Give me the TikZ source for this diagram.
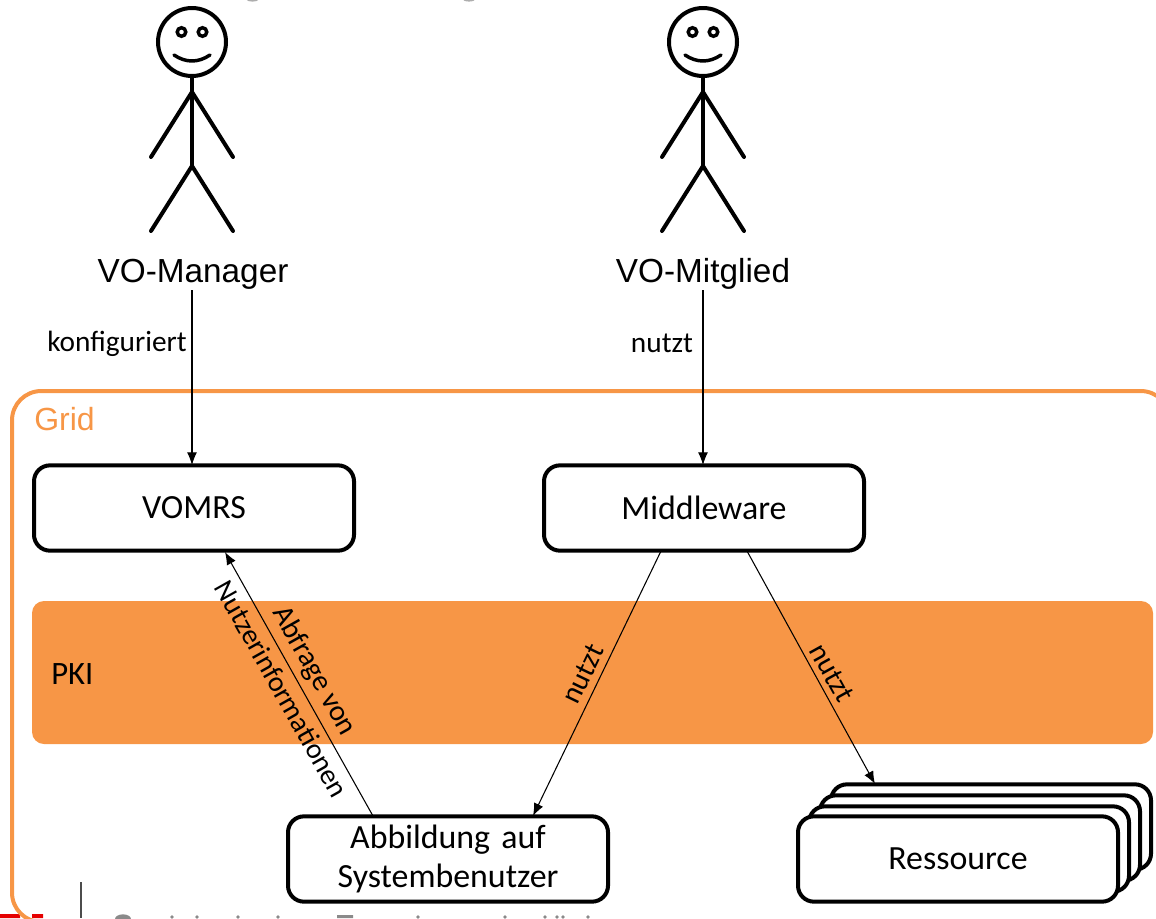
\documentclass[tikz,border=0pt]{standalone}
\usepackage{fontspec}
\setmainfont{Carlito}
\newfontfamily\arialfont{Liberation Sans}
\usetikzlibrary{arrows.meta}
\definecolor{gridorange}{HTML}{F79646}
\definecolor{footgrey}{HTML}{8A8A8A}
\tikzset{
  x=0.75pt,y=-0.75pt,
  person/.style={line width=3pt,line cap=round,line join=round,draw=black},
  box/.style={draw=black,line width=3pt,rounded corners=12pt,fill=white,minimum width=240pt,minimum height=64pt,inner sep=0pt,align=center,font=\fontsize{25.4}{29}\selectfont},
  conn/.style={draw=black,line width=0.8pt,-{Latex[length=9.5pt,width=7.5pt]}},
  clabel/.style={font=\fontsize{22}{24}\selectfont,inner sep=0pt,align=center},
  actor/.style={font=\arialfont\fontsize{25}{29}\selectfont,inner sep=0pt},
}
\newcommand{\stickman}[3]{%
  \begin{scope}[shift={(#1,#2)}]
    \node[circle,draw=black,line width=3pt,minimum size=51pt,inner sep=0pt] (#3h) at (0,42) {};
    \draw[person] (#3h.south) ++(0,0) -- (0,166);
    \draw[person] (0,92) -- (-41,157) (0,92) -- (41,157);
    \draw[person] (0,166) -- (-41,231) (0,166) -- (41,231);
    \draw[line width=2.6pt,line cap=round] (-18,55) .. controls (-6,63) and (6,63) .. (18,55);
    \draw[line width=2.6pt] (-10.5,32) circle (3.2pt) (10.5,32) circle (3.2pt);
  \end{scope}}
\begin{document}
\begin{tikzpicture}
\useasboundingbox (0,0) rectangle (1156,918);
\begin{scope}
\clip (0,0) rectangle (1156,918);
% footer and header fragments
\draw[black!70,line width=0.9pt] (81,882) -- (81,918);
\fill[red!90!black] (0,914) rectangle (20,918) (32,914) rectangle (43,918);
\fill[footgrey!70] (252.5,0) ellipse (4.2pt and 1.2pt) (469,0) ellipse (4.2pt and 1.2pt);
\fill[footgrey] (123,919) ellipse (6pt and 3.5pt) (337,915) rectangle (353,918);
\foreach \fx in {172,197,238,278,418,505,545,557,563,588} \fill[footgrey] (\fx,917) circle (1.4pt);
% Grid outline
\draw[gridorange,line width=3pt,rounded corners=22pt] (1170,500) -- (1170,391) -- (12,391) -- (12,922) -- (60,922);
\node[anchor=base west,gridorange,inner sep=0pt,font=\arialfont\fontsize{24}{28}\selectfont] (gridl) at (34,430) {Grid};
% PKI band
\node[fill=gridorange,rounded corners=9pt,minimum width=840.75pt,minimum height=107.25pt,inner sep=0pt] (pki) at (592.5,672.5) {};
\node[anchor=west,inner sep=0pt,font=\fontsize{24.5}{24}\selectfont] (pkil) at (51,674) {PKI};
% actors
\stickman{192}{0}{m}
\stickman{703}{0}{g}
\node[actor] (mgr) at (193,274) {VO-Manager};
\node[actor] (mit) at (703,274) {VO-Mitglied};
% boxes
\node[box] (vomrs) at (194,508) {VOMRS};
\node[box] (mw) at (704,508) {Middleware};
\node[box] (abb) at (448,859) {Abbildung\,\,auf\\Systembenutzer};
\node[box] (r4) at (991,827) {};
\node[box] (r3) at (980,838) {};
\node[box] (r2) at (969,849) {};
\node[box] (res) at (958,859) {Ressource};
% connectors
\coordinate (mgrb) at (192,290);
\coordinate (mitb) at (703,290);
\draw[conn] (mgrb) -- (192,465);
\draw[conn] (mitb) -- (703,465);
\draw[conn] (373,816) -- (225,552);
\draw[conn] (661,551) -- (533,816);
\draw[conn] (747,551) -- (875,784);
\node[clabel,anchor=center,fill=white,inner ysep=1pt] (l1) at (117,344) {konfiguriert};
\node[clabel,anchor=center,fill=white,inner ysep=1pt] (l2) at (662,343) {nutzt};
\node[clabel,rotate=-60.6] (l3) at (314,671) {Abfrage von};
\node[clabel,rotate=-60.6,font=\fontsize{21.4}{24}\selectfont] (l4) at (282,689) {Nutzerinformationen};
\node[clabel,rotate=64.2] (l5) at (583,674) {nutzt};
\node[clabel,rotate=-61] (l6) at (832,673) {nutzt};
\end{scope}
\end{tikzpicture}
\end{document}
